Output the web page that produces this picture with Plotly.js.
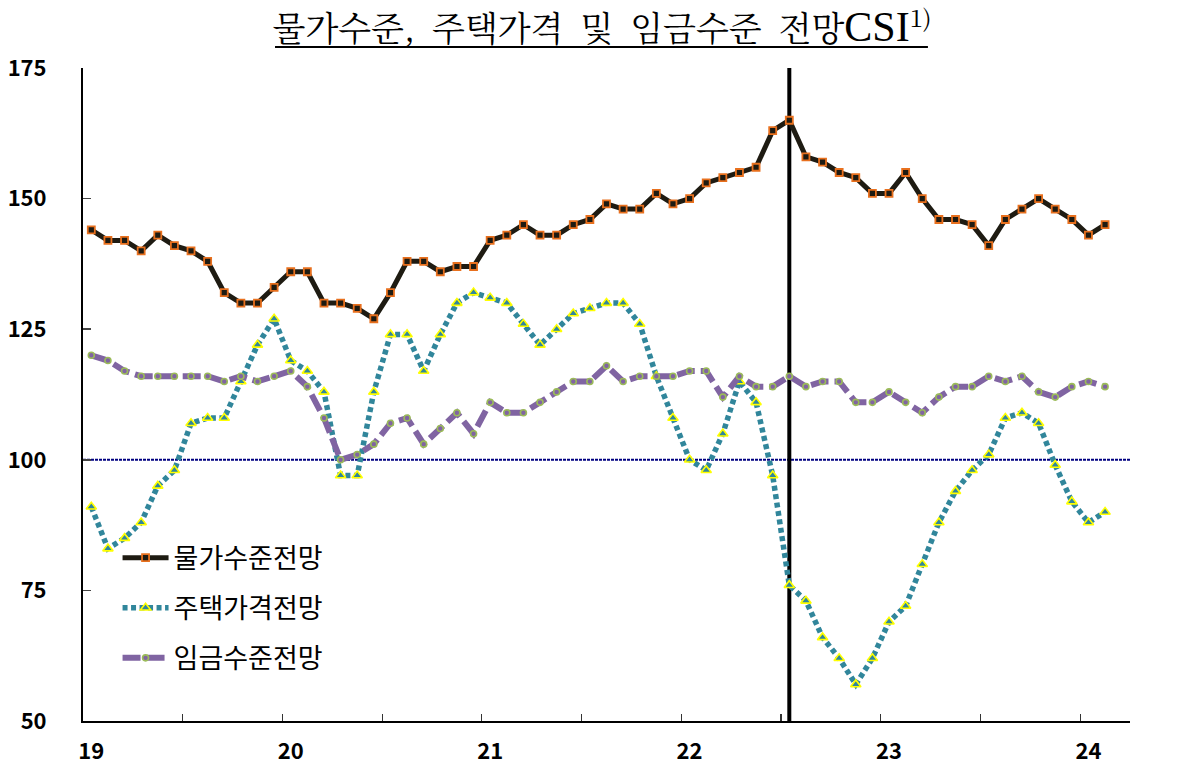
<!DOCTYPE html>
<html>
<head>
<meta charset="utf-8">
<script src="https://cdn.plot.ly/plotly-3.0.1.min.js"></script>
<style>
html,body{margin:0;padding:0;background:#fff;}
#chart{width:1204px;height:768px;}
</style>
</head>
<body>
<div id="chart"></div>
<script>
// Monthly data, Jan 2019 .. Feb 2024 (62 months)
const monthCount = 62;
const priceLevel = [144,142,142,140,143,141,140,138,132,130,130,133,
                    136,136,130,130,129,127,132,138,138,136,137,137,
                    142,143,145,143,143,145,146,149,148,148,151,149,
                    150,153,154,155,156,163,165,158,157,155,154,151,
                    151,155,150,146,146,145,141,146,148,150,148,146,
                    143,145];
const housingPrice = [91,83,85,88,95,98,107,108,108,115,122,127,
                      119,117,113,97,97,113,124,124,117,124,130,132,
                      131,130,126,122,125,128,129,130,130,126,116,108,
                      100,98,105,115,111,97,76,73,66,62,57,62,
                      69,72,80,88,94,98,101,108,109,107,99,92,
                      88,90];
const wageLevel = [120,119,117,116,116,116,116,116,115,116,115,116,
                   117,114,108,100,101,103,107,108,103,106,109,105,
                   111,109,109,111,113,115,115,118,115,116,116,116,
                   117,117,112,116,114,114,116,114,115,115,111,111,
                   113,111,109,112,114,114,116,115,116,113,112,114,
                   115,114];
const seriesNames = ['물가수준전망','주택가격전망','임금수준전망'];
const yearLabels = ['19','20','21','22','23','24'];
const yearStartIdx = [0,12,24,36,48,60];
const halfYearBounds = [5.5,11.5,17.5,23.5,29.5,35.5,41.5,47.5,53.5,59.5];
const yTicks = [50,75,100,125,150,175];
const baseline = 100;
const highlightMonth = 42; // 2022.07

const xIdx = priceLevel.map((_, i) => i);

const tickFont = {family:'Noto Sans CJK KR, Noto Sans, sans-serif', size:22, color:'#000', weight:700};

const traces = [
  {
    x: xIdx, y: priceLevel, name: seriesNames[0], type:'scatter', mode:'lines+markers',
    line:{color:'#1e1b12', width:5},
    marker:{symbol:'square', size:7, color:'#1e1b12', line:{color:'#e8701e', width:1.8}},
    legendgroup:'a'
  },
  {
    x: xIdx, y: housingPrice, name: seriesNames[1], type:'scatter', mode:'lines+markers',
    line:{color:'#31869b', width:5.5, dash:'5px,3.5px'},
    marker:{symbol:'triangle-up', size:9, color:'#31869b', line:{color:'#ffff00', width:1.6}},
    legendgroup:'b'
  },
  {
    x: xIdx, y: wageLevel, name: seriesNames[2], type:'scatter', mode:'lines+markers',
    line:{color:'#8064a2', width:6, dash:'18px,6px'},
    marker:{symbol:'circle', size:6, color:'#8064a2', line:{color:'#9bbb59', width:1.6}},
    legendgroup:'c'
  }
];

const layout = {
  width:1204, height:768,
  margin:{l:83, r:74, t:68, b:47},
  paper_bgcolor:'#fff', plot_bgcolor:'#fff',
  showlegend:true,
  title:{
    text:'물가수준,\u2002주택가격\u2002및\u2002임금수준\u2002전망<span style="font-family:Liberation Serif;font-size:42px">CSI</span><sup>1)</sup>',
    font:{family:'Noto Serif CJK KR, Liberation Serif, Noto Sans CJK KR, serif', size:34, color:'#000'},
    x:0.5, xanchor:'center', y:0.962, yanchor:'middle'
  },
  xaxis:{
    range:[-0.5, monthCount + 0.5],
    tickmode:'array', tickvals: yearStartIdx, ticktext: yearLabels,
    ticks:'', showgrid:false, zeroline:false,
    showline:true, linecolor:'#000', linewidth:2,
    tickfont: tickFont, ticklabelstandoff: 10,
    minor:{tickmode:'array', tickvals: halfYearBounds, ticks:'inside', ticklen:7, tickcolor:'#333', tickwidth:1.2, showgrid:false}
  },
  yaxis:{
    range:[50,175], tickmode:'array', tickvals:yTicks,
    ticks:'inside', ticklen:8, tickcolor:'#444', tickwidth:1.5,
    showgrid:false, zeroline:false,
    showline:true, linecolor:'#000', linewidth:2,
    tickfont: tickFont, ticklabelstandoff: 30
  },
  yaxis2:{
    range:[50,175], tickmode:'array', tickvals:yTicks,
    overlaying:'y', side:'right', anchor:'x',
    ticks:'inside', ticklen:8, tickcolor:'#444', tickwidth:1.5,
    showgrid:false, zeroline:false,
    showline:true, linecolor:'#222', linewidth:2,
    tickfont: tickFont, ticklabelstandoff: 16
  },
  shapes:[
    {type:'line', xref:'paper', x0:0, x1:1, yref:'y', y0:baseline, y1:baseline,
     line:{color:'#000080', width:2, dash:'3px,1px'}, layer:'below'},
    {type:'line', xref:'x', x0:highlightMonth, x1:highlightMonth, yref:'paper', y0:0, y1:1,
     line:{color:'#000', width:4}, layer:'below'},
    // title underline
    {type:'line', xref:'paper', x0:0.1834, x1:0.807, yref:'paper', y0:1.0322, y1:1.0322,
     line:{color:'#000', width:2}}
  ],
  legend:{
    x:0.033, xanchor:'left', y:0.287, yanchor:'top',
    bgcolor:'rgba(0,0,0,0)', borderwidth:0,
    font:{family:'Noto Sans CJK KR, sans-serif', size:27, color:'#000'},
    tracegroupgap:12, itemwidth:46, traceorder:'grouped'
  }
};

Plotly.newPlot('chart', traces, layout, {displayModeBar:false, staticPlot:true});
</script>
</body>
</html>
